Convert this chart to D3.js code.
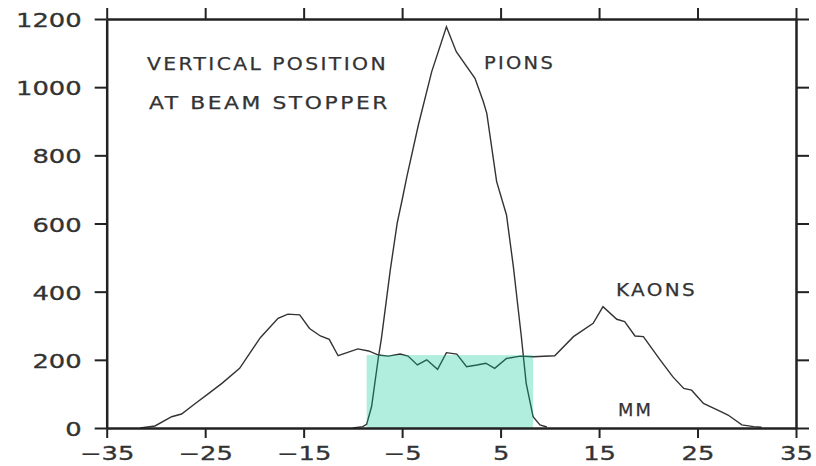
<!DOCTYPE html>
<html lang="en">
<head>
    <meta charset="UTF-8">
    <script src="https://cdnjs.cloudflare.com/ajax/libs/d3/7.8.5/d3.min.js"></script>
    <title>Vertical position at beam stopper</title>
    <style>
        body { margin: 0; background: #fff; }
    </style>
</head>
<body>
    <div id='graph'></div>

    <script>
    // values (mm, counts)
    let pionX = [-10, -9, -8.6, -8.1, -7.4, -7.1, -6.2, -5.5, -5.0, -4.5, -3.35, -2.0, -0.5, 0.5, 2.4, 3.25, 3.6, 4.6, 5.6, 6.3, 7.1, 7.6, 8.3, 9.0, 9.7];
    let pionY = [0, 4, 11, 63, 209, 263, 464, 601, 669, 740, 889, 1045, 1177, 1104, 1026, 957, 923, 723, 625, 473, 270, 131, 33, 9, 3];

    let kaonX = [-31.6, -30.1, -28.4, -27.4, -25.9, -24.7, -23.3, -21.5, -20.6, -19.4, -17.6, -16.6, -15.4, -14.4, -13.3, -12.4, -11.5, -10.6, -9.5, -8.4,
        -7.4, -6.4, -5.2, -4.4, -3.45, -2.5, -1.4, -0.5, 0.55, 1.55, 2.6, 3.5, 4.4, 5.6, 7.0, 8.3, 10.5, 12.4, 14.4, 15.4,
        16.8, 17.6, 18.65, 19.5, 21.2, 22.5, 23.6, 24.4, 25.6, 27.0, 28.1, 29.5, 30.7, 31.5];
    let kaonY = [0, 6, 33, 41, 74, 100, 131, 175, 214, 265, 322, 334, 332, 292, 270, 260, 212, 221, 232, 226,
        214, 211, 217, 211, 185, 200, 172, 221, 217, 180, 185, 190, 175, 204, 211, 209, 212, 268, 307, 356,
        319, 312, 270, 268, 200, 150, 116, 111, 72, 53, 38, 9, 4, 2];

    // shaded band
    let bandX = [-8.6, 8.3];
    let bandTop = 214;

    let xTicks = [-35, -25, -15, -5, 5, 15, 25, 35];
    let yTicks = [0, 200, 400, 600, 800, 1000, 1200];

    // settings for the graph
    let width = 816;
    let height = 466;
    let plotLeft = 106.7, plotRight = 796, plotTop = 19, plotBottom = 428;
    let ink = '#222';
    let textInk = '#333';

    let x = d3.scaleLinear().domain([-35, 35]).range([plotLeft, plotRight]);
    let y = d3.scaleLinear().domain([0, 1200]).range([plotBottom, plotTop]);

    let canvas = d3.select('#graph')
        .append('svg')
        .attr('width', width)
        .attr('height', height);

    // curves
    let line = d3.line()
        .x(d => x(d[0]))
        .y(d => y(d[1]));

    canvas.append('path')
        .datum(d3.zip(kaonX, kaonY))
        .attr('d', line)
        .attr('fill', 'none')
        .attr('stroke', '#333')
        .attr('stroke-width', 1.4);

    canvas.append('path')
        .datum(d3.zip(pionX, pionY))
        .attr('d', line)
        .attr('fill', 'none')
        .attr('stroke', '#333')
        .attr('stroke-width', 1.4);

    // green band sits on top, lines show through
    canvas.append('rect')
        .attr('x', x(bandX[0]))
        .attr('y', y(bandTop))
        .attr('width', x(bandX[1]) - x(bandX[0]))
        .attr('height', y(0) - y(bandTop))
        .attr('fill', 'rgb(0,198,145)')
        .attr('fill-opacity', 0.3);

    // axes, ticks pointing outwards on all four sides
    function styleAxis(g) {
        g.select('.domain').attr('stroke', ink).attr('stroke-width', 2.5);
        g.selectAll('.tick line').attr('stroke', ink).attr('stroke-width', 2);
    }

    function styleLabels(sel, shift) {
        sel.attr('x', null).attr('y', null).attr('dy', null)
            .attr('transform', shift + ' scale(1.36,1)')
            .attr('font-family', 'DejaVu Sans')
            .attr('font-size', 19)
            .attr('fill', textInk)
            .attr('stroke', textInk)
            .attr('stroke-width', 0.3);
    }

    let gx = canvas.append('g')
        .attr('transform', `translate(0,${plotBottom})`)
        .call(d3.axisBottom(x).tickValues(xTicks).tickSize(10).tickSizeOuter(0))
        .call(styleAxis);
    styleLabels(gx.selectAll('.tick text'), 'translate(0,32)');

    let gy = canvas.append('g')
        .attr('transform', `translate(${plotLeft},0)`)
        .call(d3.axisLeft(y).tickValues(yTicks).tickSize(12).tickSizeOuter(0).tickFormat(d3.format('d')))
        .call(styleAxis);
    styleLabels(gy.selectAll('.tick text'), 'translate(-25,7.5)');

    canvas.append('g')
        .attr('transform', `translate(0,${plotTop})`)
        .call(d3.axisTop(x).tickValues(xTicks).tickSize(11).tickSizeOuter(0).tickFormat(''))
        .call(styleAxis);

    canvas.append('g')
        .attr('transform', `translate(${plotRight},0)`)
        .call(d3.axisRight(y).tickValues(yTicks).tickSize(13).tickSizeOuter(0).tickFormat(''))
        .call(styleAxis);

    // labels inside the frame
    let notes = [
        { t: 'VERTICAL POSITION', x: 147, y: 69.5, w: 241 },
        { t: 'AT BEAM STOPPER', x: 149, y: 108.5, w: 241 },
        { t: 'PIONS', x: 484, y: 68.5, w: 71 },
        { t: 'KAONS', x: 616, y: 296, w: 81 },
        { t: 'MM', x: 618, y: 415.5, w: 35 }
    ];

    canvas.selectAll('text.note')
        .data(notes)
        .enter()
        .append('text')
        .attr('class', 'note')
        .text(d => d.t)
        .attr('x', d => d.x)
        .attr('y', d => d.y)
        .attr('textLength', d => d.w)
        .attr('lengthAdjust', 'spacingAndGlyphs')
        .attr('letter-spacing', 2)
        .attr('font-family', 'DejaVu Sans')
        .attr('font-size', 17)
        .attr('fill', textInk)
        .attr('stroke', textInk)
        .attr('stroke-width', 0.25);
    </script>
</body>
</html>
